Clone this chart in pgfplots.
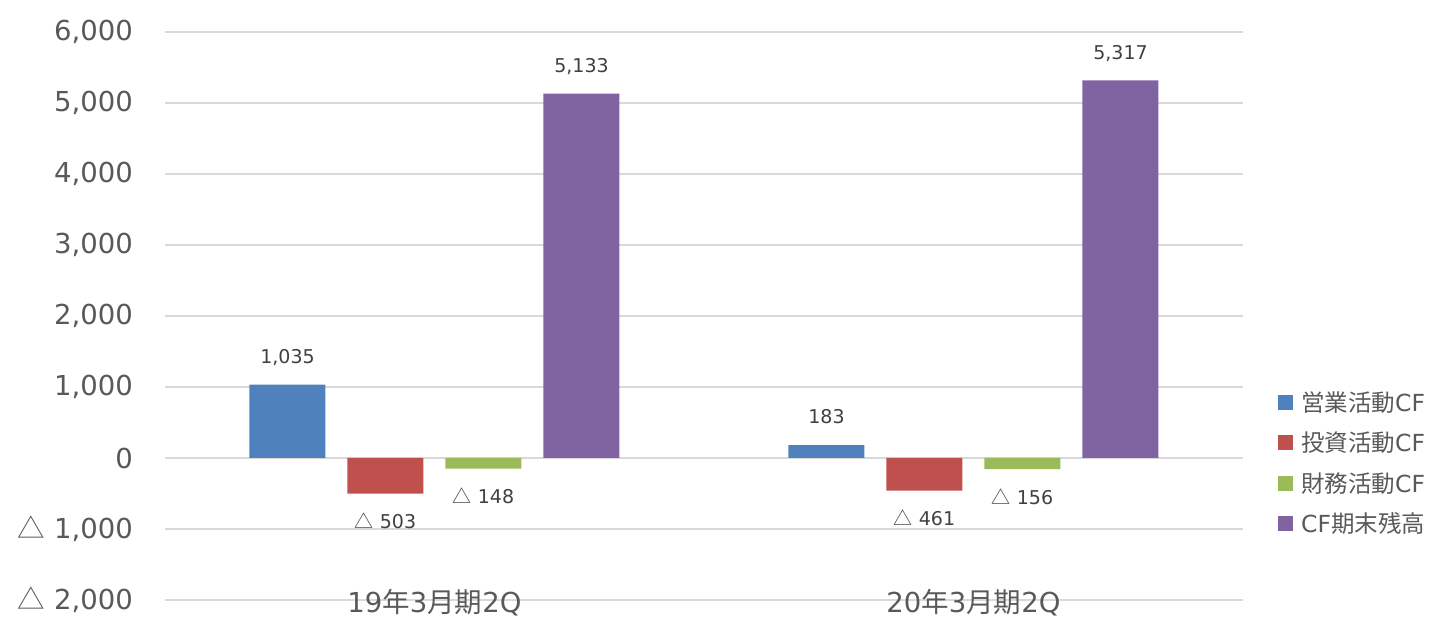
\documentclass[border=0pt]{standalone}
\usepackage{pgfplots}
\pgfplotsset{compat=1.18}
\usepackage{fontspec}
\setmainfont{DejaVu Sans}
\newfontfamily\jp{Noto Sans CJK JP}
\newcommand\J[1]{{\jp #1}}
\newcommand\tri{{\jp △}}
\definecolor{cA}{HTML}{4F81BD}
\definecolor{cB}{HTML}{C0504D}
\definecolor{cC}{HTML}{9BBB59}
\definecolor{cD}{HTML}{8064A2}
\definecolor{gridc}{HTML}{D9D9D9}
\definecolor{tickc}{HTML}{595959}
\definecolor{labc}{HTML}{404040}
\pgfplotsset{sqlegend/.style={legend image code/.code={\fill[##1] (0pt,-7.5pt) rectangle (15pt,7.5pt);}}}
\begin{document}
\begin{tikzpicture}
\useasboundingbox (0,0) rectangle (1429pt,618pt);
\begin{axis}[
 at={(165pt,18pt)}, anchor=south west,
 scale only axis, width=1078pt, height=568pt,
 xmin=-0.5, xmax=1.5, ymin=-2000, ymax=6000,
 ytick={-2000,-1000,0,1000,2000,3000,4000,5000,6000},
 yticklabels={{\tri\ 2,000},{\tri\ 1,000},0,{1,000},{2,000},{3,000},{4,000},{5,000},{6,000}},
 xtick={0,1},
 xticklabels={{19\J{年}3\J{月期}2Q},{20\J{年}3\J{月期}2Q}},
 ymajorgrids, grid style={color=gridc, line width=1.5pt},
 axis line style={draw=none},
 major tick length=0pt,
 tick label style={font=\fontsize{27.5}{30}\selectfont, text=tickc},
 yticklabel style={inner xsep=0pt, xshift=-32pt},
 xticklabel style={anchor=center, yshift=-2.5pt},
 ybar=22pt, bar width=76pt,
 nodes near coords={\pgfplotspointmeta}, point meta=explicit symbolic,
 every node near coord/.append style={font=\fontsize{19}{22}\selectfont, text=labc, inner xsep=0pt, inner ysep=21pt, text height=14pt, text depth=0pt},
 every axis plot post/.append style={sqlegend},
 legend style={at={(axis description cs:1.0325,0.241)}, anchor=west, draw=none, fill=none, inner sep=0pt, row sep=15pt, column sep=6pt, font=\fontsize{23.5}{26}\selectfont, text=tickc, cells={anchor=west}},
]
\addplot[fill=cA, draw=none] coordinates {(0,1035) [{1,035}] (1,183) [183]};
\addplot[fill=cB, draw=none, every node near coord/.append style={anchor=north}] coordinates {(0,-503) [{\tri\ 503}] (1,-461) [{\tri\ 461}]};
\addplot[fill=cC, draw=none, every node near coord/.append style={anchor=north}] coordinates {(0,-148) [{\tri\ 148}] (1,-156) [{\tri\ 156}]};
\addplot[fill=cD, draw=none] coordinates {(0,5133) [{5,133}] (1,5317) [{5,317}]};
\legend{\J{営業活動}CF,\J{投資活動}CF,\J{財務活動}CF,CF\J{期末残高}}
\end{axis}
\end{tikzpicture}
\end{document}
